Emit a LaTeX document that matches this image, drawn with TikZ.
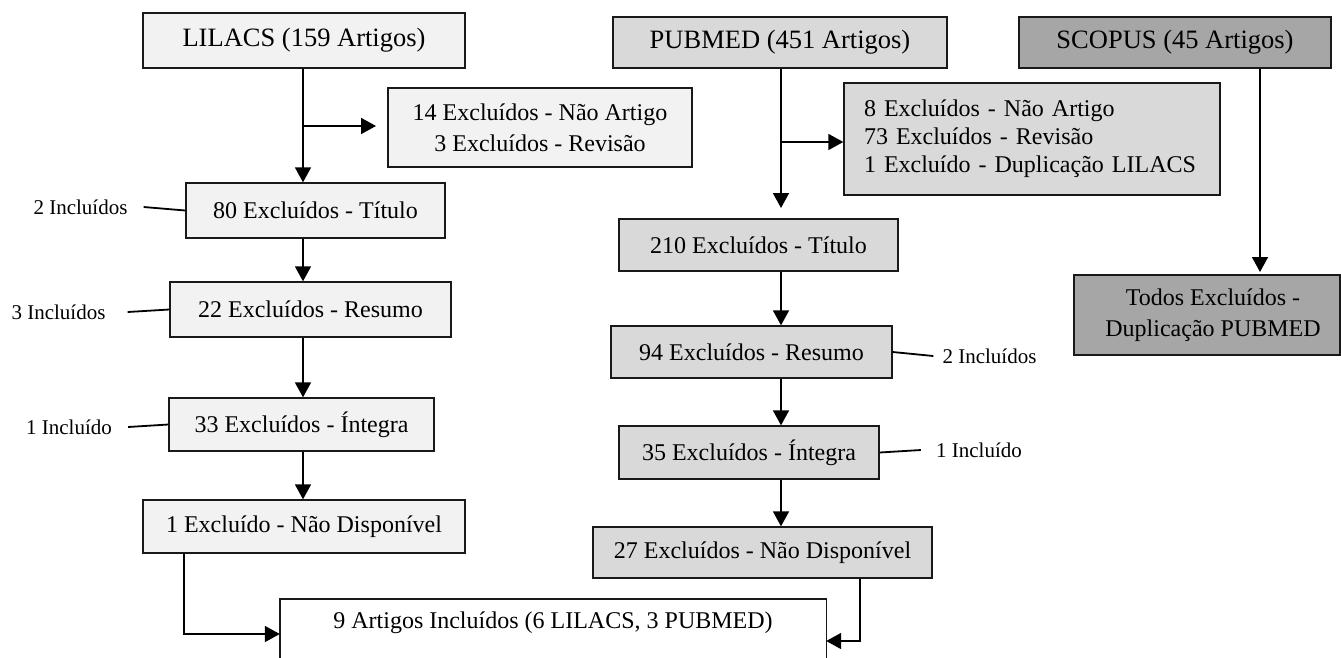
\documentclass[tikz,border=0pt]{standalone}
\usepackage{fontspec}
\setmainfont{Liberation Serif}
\usetikzlibrary{arrows.meta}
\definecolor{lilfill}{HTML}{F2F2F2}
\definecolor{pubfill}{HTML}{D9D9D9}
\definecolor{scofill}{HTML}{A6A6A6}
\begin{document}
\begin{tikzpicture}[x=1pt,y=-1pt,
  box/.style={draw=black!90, line width=1.4pt, inner sep=0pt, align=center, font=\fontsize{24}{31}\selectfont},
  title/.style={box, font=\fontsize{26.5}{32}\selectfont},
  lab/.style={inner sep=0pt, font=\fontsize{21}{25}\selectfont},
  conn/.style={line width=1.8pt},
  arr/.style={conn, -{Triangle[length=15pt,width=16pt]}},
]
\useasboundingbox[fill=white] (0,0) rectangle (1341,657);

% LILACS column
\node[title, fill=lilfill, minimum width=322pt, minimum height=55pt] (lil) at (304,40.5) {LILACS (159 Artigos)};
\node[box, fill=lilfill, minimum width=304pt, minimum height=79pt] (lex1) at (540,127.5) {14 Excluídos - Não Artigo\\3 Excluídos - Revisão};
\node[box, fill=lilfill, minimum width=259pt, minimum height=55pt] (l80) at (315.5,210.5) {80 Excluídos - Título};
\node[box, fill=lilfill, minimum width=281pt, minimum height=55pt] (l22) at (310.5,309.5) {22 Excluídos - Resumo};
\node[box, fill=lilfill, minimum width=265pt, minimum height=53pt] (l33) at (301.5,424.5) {33 Excluídos - Íntegra};
\node[box, fill=lilfill, minimum width=322pt, minimum height=53pt] (l1) at (304,526.5) {1 Excluído - Não Disponível};

\node[lab] (i2L) at (80.5,207) {2 Incluídos};
\node[lab] (i3L) at (58.5,312) {3 Incluídos};
\node[lab] (i1L) at (69,427) {1 Incluído};

% PUBMED column
\node[title, fill=pubfill, minimum width=334pt, minimum height=51pt] (pub) at (780,42.5) {PUBMED (451 Artigos)};
\node[box, fill=pubfill, minimum width=376pt, minimum height=112pt, text width=336pt, align=left, font=\fontsize{24}{28}\selectfont] (pex) at (1032,139) {8 Excluídos - Não Artigo\\73 Excluídos - Revisão\\1 Excluído - Duplicação LILACS};
\node[box, fill=pubfill, minimum width=279pt, minimum height=52pt] (p210) at (758.5,245) {210 Excluídos - Título};
\node[box, fill=pubfill, minimum width=281pt, minimum height=52pt] (p94) at (751.5,352) {94 Excluídos - Resumo};
\node[box, fill=pubfill, minimum width=260pt, minimum height=53pt] (p35) at (749,452.5) {35 Excluídos - Íntegra};
\node[box, fill=pubfill, minimum width=339pt, minimum height=51pt] (p27) at (762.5,552.5) {27 Excluídos - Não Disponível};

\node[lab] (i2R) at (989.5,356) {2 Incluídos};
\node[lab] (i1R) at (979,450) {1 Incluído};

% SCOPUS column
\node[title, fill=scofill, minimum width=312pt, minimum height=51pt] (sco) at (1175,42.5) {SCOPUS (45 Artigos)};
\node[box, fill=scofill, minimum width=266pt, minimum height=80pt] (todos) at (1207,315) {\hspace*{12pt}Todos Excluídos -\\\hspace*{12pt}Duplicação PUBMED};

% final box (open at the bottom)
\node[inner sep=0pt, minimum width=546pt, minimum height=62pt] (fin) at (553,630) {};
\node[inner sep=0pt, font=\fontsize{24}{31}\selectfont] (fintext) at (553,623) {9 Artigos Incluídos (6 LILACS, 3 PUBMED)};
\draw[line width=1.4pt, draw=black!90] (fin.south west) -- (fin.north west) -- (fin.north east) -- (fin.south east);

% helper coordinates
\coordinate (colL) at (303,0);
\coordinate (colP) at (781,0);
\coordinate (brL) at (303,126);
\coordinate (lbTip) at (376,126);
\coordinate (brP) at (781,142);
\coordinate (pTip) at (781,208);
\coordinate (sTip) at (1260,272);
\coordinate (bendL) at (184,634);
\coordinate (bendR) at (860,641);

% LILACS connectors
\draw[arr] (lil.south -| colL) -- (l80.north -| colL);
\draw[arr] (brL) -- (lbTip);
\draw[arr] (l80.south -| colL) -- (l22.north -| colL);
\draw[arr] (l22.south -| colL) -- (l33.north -| colL);
\draw[arr] (l33.south -| colL) -- (l1.north -| colL);
\draw[arr] (l1.south -| bendL) -- (bendL) -- (fin.west |- bendL);

\draw[conn] ([xshift=16pt]i2L.east) -- (l80.west);
\draw[conn] ([xshift=22pt]i3L.east) -- (l22.west);
\draw[conn] ([xshift=16pt]i1L.east) -- (l33.west);

% PUBMED connectors
\draw[arr] (pub.south -| colP) -- (pTip);
\draw[arr] (brP) -- (pex.west |- brP);
\draw[arr] (p210.south -| colP) -- (p94.north -| colP);
\draw[arr] (p94.south -| colP) -- (p35.north -| colP);
\draw[arr] (p35.south -| colP) -- (p27.north -| colP);
\draw[arr] (p27.south -| bendR) -- (bendR) -- (fin.east |- bendR);

\draw[conn] (p94.east) -- ([xshift=-9pt]i2R.west);
\draw[conn] (p35.east) -- ([xshift=-15pt]i1R.west);

% SCOPUS connector
\draw[arr] (sco.south -| sTip) -- (sTip);
\end{tikzpicture}
\end{document}
